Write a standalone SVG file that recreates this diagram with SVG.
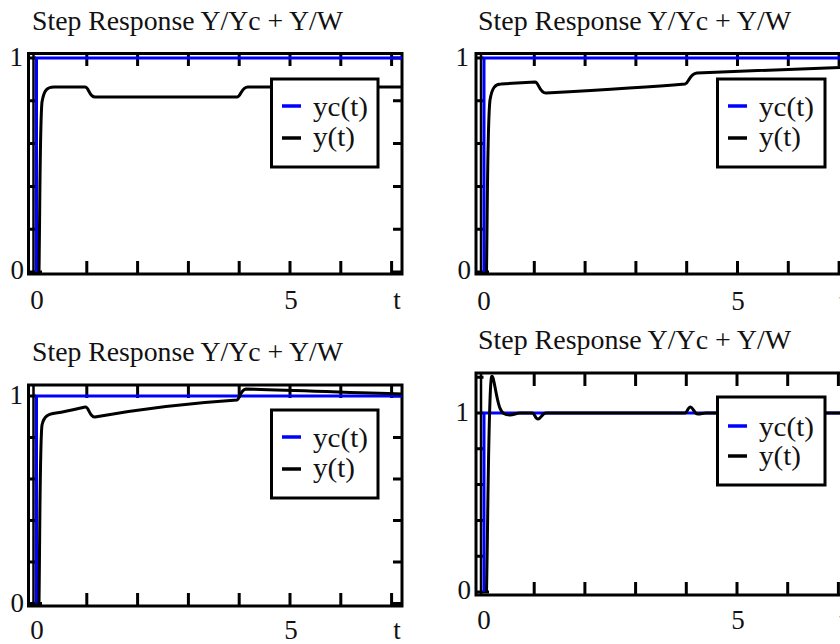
<svg xmlns="http://www.w3.org/2000/svg" width="840" height="644" viewBox="0 0 840 644">
<style>
.frame{fill:none;stroke:#000;stroke-width:3}
.tick{stroke:#000;stroke-width:3;fill:none}
.axis{stroke:#000;stroke-width:2.5;fill:none}
.yc{stroke:#0000ff;stroke-width:3;fill:none}
.y{stroke:#000;stroke-width:3;fill:none;stroke-linejoin:round}
.leg{fill:#fff;stroke:#000;stroke-width:3}
.ldash{stroke-width:3.5}
text{font-family:"Liberation Serif","Times New Roman",serif;font-size:27px;fill:#111}
.mid{text-anchor:middle}
.end{text-anchor:end}
</style>
<rect width="840" height="644" fill="#fff"/>

<g id="panel1">
  <text x="32" y="30" textLength="311" lengthAdjust="spacingAndGlyphs">Step Response Y/Yc + Y/W</text>
  <rect class="frame" x="28.5" y="53.5" width="373.5" height="220.5"/>
  <path class="tick" d="M86.8,53.5V66M137.6,53.5V66M188.4,53.5V66M239.2,53.5V66M290,53.5V66M340.8,53.5V66M391.6,53.5V66
    M86.8,274V261M137.6,274V261M188.4,274V261M239.2,274V261M290,274V261M340.8,274V261M391.6,274V261
    M28.5,272H42M28.5,229.2H36M28.5,186.4H36M28.5,143.6H36M28.5,100.8H36M28.5,58H36
    M402,272H392M402,229.2H393M402,186.4H393M402,143.6H393M402,100.8H393M402,58H393"/>
  <path class="axis" d="M33.5,53.5V274"/>
  <path class="yc" d="M36.5,272V58H402"/>
  <path class="y" d="M39,272 C40,200 40,120 42,102 C44,90 47,87 54,87 L85,87 C89,87 89,97 95,97 L237,97 C241,97 241,87 248,87 L402,87"/>
  <g id="legend1">
    <rect class="leg" x="271.5" y="79" width="106.5" height="88"/>
    <path class="yc ldash" d="M282,106H301"/>
    <path class="y ldash" d="M282,138H301"/>
    <text x="313" y="116" textLength="55" lengthAdjust="spacingAndGlyphs">yc(t)</text>
    <text x="313" y="146" textLength="42" lengthAdjust="spacingAndGlyphs">y(t)</text>
  </g>
  <text class="end" x="23" y="66">1</text>
  <text class="end" x="24" y="279">0</text>
  <text class="mid" x="37" y="309">0</text>
  <text class="mid" x="291" y="309">5</text>
  <text class="mid" x="397" y="309">t</text>
</g>

<g id="panel2">
  <text x="478" y="30" textLength="313" lengthAdjust="spacingAndGlyphs">Step Response Y/Yc + Y/W</text>
  <rect class="frame" x="476" y="53.5" width="380" height="220.5"/>
  <path class="tick" d="M534.3,53.5V66M585.1,53.5V66M635.9,53.5V66M686.7,53.5V66M737.5,53.5V66M788.3,53.5V66M839.1,53.5V66
    M534.3,274V261M585.1,274V261M635.9,274V261M686.7,274V261M737.5,274V261M788.3,274V261M839.1,274V261
    M476,272H489M476,229.2H483.5M476,186.4H483.5M476,143.6H483.5M476,100.8H483.5M476,58H483.5"/>
  <path class="axis" d="M481,53.5V274"/>
  <path class="yc" d="M484,272V58H850"/>
  <path class="y" d="M486.5,272 C487.5,200 487.5,120 490,100 C492,88 495,84 501,84 L535,82 C539,82 539,93 546,93 C600,90 650,87 685,84 C689,83 689,74 697,73 C750,71 800,69 850,67"/>
  <g id="legend2">
    <rect class="leg" x="717.5" y="79" width="107.5" height="88"/>
    <path class="yc ldash" d="M728,106H747"/>
    <path class="y ldash" d="M728,138H747"/>
    <text x="759" y="116" textLength="55" lengthAdjust="spacingAndGlyphs">yc(t)</text>
    <text x="759" y="146" textLength="42" lengthAdjust="spacingAndGlyphs">y(t)</text>
  </g>
  <text class="end" x="469" y="66">1</text>
  <text class="end" x="471" y="279">0</text>
  <text class="mid" x="484" y="310">0</text>
  <text class="mid" x="738" y="310">5</text>
  <text class="mid" x="843" y="310">t</text>
</g>

<g id="panel3">
  <text x="32" y="361" textLength="311" lengthAdjust="spacingAndGlyphs">Step Response Y/Yc + Y/W</text>
  <rect class="frame" x="28.5" y="385" width="373.5" height="221"/>
  <path class="tick" d="M86.8,385V398M137.6,385V398M188.4,385V398M239.2,385V398M290,385V398M340.8,385V398M391.6,385V398
    M86.8,606V593M137.6,606V593M188.4,606V593M239.2,606V593M290,606V593M340.8,606V593M391.6,606V593
    M28.5,603.5H42M28.5,562H36M28.5,520.5H36M28.5,479H36M28.5,437.5H36M28.5,396H36
    M402,603.5H392M402,562H393M402,520.5H393M402,479H393M402,437.5H393M402,396H393"/>
  <path class="axis" d="M33.5,385V606"/>
  <path class="yc" d="M36.5,603.5V396H402"/>
  <path class="y" d="M39,603.5 C40,520 40,440 42,425 C44,416 48,414 56,413 C70,411 80,408 85,407 C89,406 89,417 95,417 C140,409 190,403 237,400 C240,399 240,390 246,389 C300,390 350,393 402,394"/>
  <g id="legend3">
    <rect class="leg" x="271.5" y="410" width="106.5" height="88"/>
    <path class="yc ldash" d="M282,437H301"/>
    <path class="y ldash" d="M282,469H301"/>
    <text x="313" y="447" textLength="55" lengthAdjust="spacingAndGlyphs">yc(t)</text>
    <text x="313" y="477" textLength="42" lengthAdjust="spacingAndGlyphs">y(t)</text>
  </g>
  <text class="end" x="23" y="404">1</text>
  <text class="end" x="24" y="612">0</text>
  <text class="mid" x="37" y="639">0</text>
  <text class="mid" x="291" y="639">5</text>
  <text class="mid" x="397" y="639">t</text>
</g>

<g id="panel4">
  <text x="478" y="349" textLength="313" lengthAdjust="spacingAndGlyphs">Step Response Y/Yc + Y/W</text>
  <rect class="frame" x="476" y="373" width="380" height="222"/>
  <path class="tick" d="M534.2,373V386M584.9,373V386M635.6,373V386M686.3,373V386M737,373V386M787.7,373V386M838.4,373V386
    M534.2,595V582M584.9,595V582M635.6,595V582M686.3,595V582M737,595V582M787.7,595V582M838.4,595V582
    M476,592H489M476,556.2H483.5M476,520.4H483.5M476,484.6H483.5M476,448.8H483.5M476,413H483.5M476,377.2H483.5"/>
  <path class="axis" d="M481,373V595"/>
  <path class="yc" d="M484,592V413H850"/>
  <path class="y" d="M486.5,592 C488,520 488.5,390 491.5,377 C493.5,372 495.5,395 499.5,407 C502,414 505,415 510,415 C514,415 516,413 520,413 L532,413 C535,413 535,419 538,419 C541,419 542,413 546,413 L685,413 C687,413 688,407 690.5,407 C693,407 694,414 698,414 C701,414 703,413 706,413 L850,413"/>
  <g id="legend4">
    <rect class="leg" x="717.5" y="397" width="107.5" height="88"/>
    <path class="yc ldash" d="M728,426H747"/>
    <path class="y ldash" d="M728,456H747"/>
    <text x="759" y="436" textLength="55" lengthAdjust="spacingAndGlyphs">yc(t)</text>
    <text x="759" y="465" textLength="42" lengthAdjust="spacingAndGlyphs">y(t)</text>
  </g>
  <text class="end" x="469" y="421">1</text>
  <text class="end" x="471" y="599">0</text>
  <text class="mid" x="484" y="629">0</text>
  <text class="mid" x="738" y="629">5</text>
  <text class="mid" x="843" y="629">t</text>
</g>
</svg>
